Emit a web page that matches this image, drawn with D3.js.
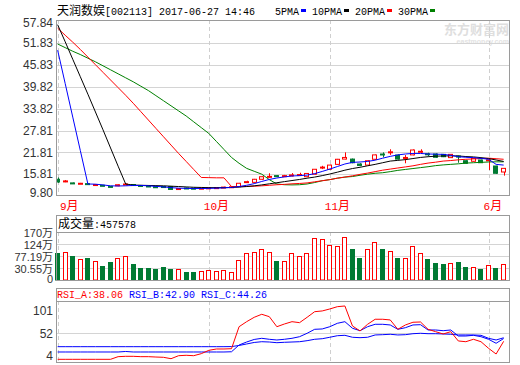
<!DOCTYPE html>
<html><head><meta charset="utf-8">
<script src="https://cdn.jsdelivr.net/npm/d3@7/dist/d3.min.js"></script>
<style>body{margin:0;background:#fff}svg{display:block}</style>
</head><body><svg id="c" width="520" height="365"></svg>
<script>
// ---------------- data ----------------
const stockName = "天润数娱";
const stockCode = "[002113] 2017-06-27 14:46";
const maNames = ["5PMA","10PMA","20PMA","30PMA"];
const monthLabels = ["9月","10月","11月","6月"];
const monthIndex = [0,20,36,57];
const priceTicks = [57.84,51.83,45.83,39.82,33.82,27.81,21.81,15.81,9.80];
const volTicks = [170,124,77.19,30.55,-15.9];
const volTickLabels = ["170万","124万","77.19万","30.55万","0"];
const rsiTicks = [101,52,4];
const volHeader = "457578";
const rsiHeader = ["38.06","42.90","44.26"];

const open  = [14.4,13.8,13.4,13.2,13.2,12.85,12.75,12.45,12.6,12.9,12.95,12.7,12.55,12.35,12.4,12.4,11.7,12.0,11.95,11.8,11.9,12.0,12.1,12.2,12.35,13.6,13.55,14.4,15.05,15.4,15.2,15.4,15.5,15.1,15.8,17.6,17.15,18.5,19.95,19.95,18.6,18.3,19.9,21.35,21.8,21.05,20.3,21.1,21.95,21.4,21.35,21.25,20.35,20.8,19.5,19.35,19.7,19.6,18.05,16.4];
const close = [13.65,13.95,13.25,13.3,13.05,12.95,12.6,12.3,12.9,13.1,12.75,12.55,12.35,12.2,12.2,11.6,11.85,11.9,11.8,11.95,12.05,12.1,12.25,12.35,13.3,13.75,14.4,15.1,15.2,15.2,15.4,15.6,15.7,16.0,17.15,17.75,18.3,19.9,20.4,18.95,18.2,19.5,21.1,21.2,21.95,19.95,20.4,22.45,22.1,21.3,20.45,20.6,21.25,20.5,18.8,20.15,18.95,19.75,16.05,17.4];
const high  = [14.9,14.2,13.5,13.4,13.3,13.1,12.85,12.55,13.0,13.2,13.05,12.8,12.65,12.45,12.45,12.45,12.0,12.1,12.05,12.05,12.15,12.2,12.35,12.45,13.4,14.0,14.5,15.2,16.05,15.5,15.6,16.1,16.2,16.1,17.2,18.1,18.4,20.0,21.8,20.1,18.8,19.6,21.2,21.8,22.65,21.2,21.05,22.6,22.65,21.7,21.5,21.35,21.35,20.9,19.6,20.25,19.8,20.0,18.1,17.5];
const low   = [13.4,13.6,13.1,13.1,12.95,12.7,12.5,12.2,12.5,12.8,12.6,12.45,12.3,12.1,12.1,11.5,11.6,11.8,11.7,11.7,11.85,11.95,12.0,12.1,12.3,13.4,13.4,14.3,14.75,15.0,15.1,15.2,15.4,15.0,15.7,17.2,17.0,18.4,19.9,18.8,18.0,18.2,19.8,20.45,21.1,19.85,18.8,21.0,21.5,20.8,20.3,20.5,20.25,18.95,18.7,19.25,18.9,16.95,15.9,15.4];

const ma5  = [49.9,40.7,31.5,22.3,13.1,13.05,12.85,12.6,12.55,12.6,12.7,12.7,12.6,12.45,12.3,12.1,11.95,11.9,11.85,11.85,11.9,11.95,12.05,12.15,12.4,12.75,13.2,13.8,14.35,14.75,15.05,15.3,15.4,15.55,15.95,16.55,17.2,17.9,18.6,19.05,19.15,19.3,19.65,20.2,20.7,21.1,21.35,21.5,21.5,21.35,21.3,21.25,21.0,20.6,20.45,20.35,20.15,19.9,18.5,18.3];
const ma10 = [56.9,52.2,47.4,42.6,37.8,32.9,28.0,23.0,18.0,13.1,12.8,12.75,12.7,12.65,12.6,12.5,12.4,12.3,12.2,12.15,12.1,12.1,12.1,12.15,12.25,12.4,12.6,12.85,13.15,13.45,13.75,14.05,14.35,14.7,15.0,15.4,15.85,16.35,16.9,17.35,17.7,18.1,18.5,18.95,19.4,19.6,19.8,20.1,20.4,20.6,20.75,20.8,20.85,20.8,20.65,20.55,20.35,20.1,19.7,19.3];
const ma20 = [55.95,54.0,52.1,50.1,48.0,45.9,43.8,41.7,39.6,37.5,35.3,33.0,30.7,28.4,26.1,23.8,21.5,19.3,17.1,14.9,14.85,14.8,14.8,12.4,12.4,12.45,12.5,12.6,12.75,12.9,13.0,13.15,13.25,13.4,13.7,14.0,14.3,14.7,15.0,15.35,15.75,16.1,16.5,16.9,17.2,17.5,17.8,18.1,18.5,18.85,19.1,19.4,19.55,19.75,19.9,20.0,20.1,20.2,20.05,19.9];
const ma30 = [51.6,50.6,49.6,48.7,47.7,46.7,45.6,44.5,43.4,42.3,41.2,40.0,38.8,37.4,36.0,34.6,33.2,31.8,30.2,28.6,27.0,24.8,22.6,20.4,18.8,17.4,16.6,15.8,14.3,13.1,12.9,12.85,12.9,13.1,13.5,14.0,14.3,14.7,15.0,15.15,15.5,15.8,16.05,16.2,16.5,16.85,17.1,17.35,17.6,17.85,18.15,18.35,18.5,18.65,18.85,18.95,19.05,19.15,19.2,19.2];

const volume = [89.8,93.7,77.1,65.4,70.5,57.7,38.3,55.0,69.3,77.1,46.1,31.7,31.7,27.9,35.6,27.9,26.7,16.2,16.2,20.1,22.8,20.1,22.8,16.2,61.6,89.8,93.7,104.2,92.5,58.8,57.7,88.7,77.1,88.7,145.6,142.9,119.7,115.8,149.5,104.2,69.3,103.0,130.1,104.2,95.3,69.3,68.1,115.8,88.7,65.4,51.1,46.1,48.8,55.0,34.4,33.3,26.7,41.0,30.6,45.76];

const rsiA = [6.9,6.9,6.9,6.9,6.9,6.9,6.9,6.9,11.5,12.1,12.1,11.5,11.5,10.9,10.4,8.0,13.2,13.9,13.2,16.7,22.5,24.8,24.8,25.3,63.4,72.1,79.7,84.9,80.8,63.4,68.1,72.1,70.4,79.7,89.4,90.7,94.1,98.1,99.3,64.7,56.0,67.6,76.3,76.3,75.1,58.9,66.4,71.1,71.6,58.9,54.8,50.8,54.8,38.7,37.4,41.6,37.4,26.0,16.1,38.06];
const rsiB = [19.6,19.6,19.6,19.6,19.6,19.6,19.6,19.6,19.6,20.5,19.6,19.6,19.6,19.6,19.6,19.6,19.6,19.6,19.6,19.6,19.6,19.6,19.6,20.0,31.7,36.9,41.3,43.3,41.6,40.4,41.6,43.3,46.1,52.0,58.9,59.5,63.4,69.3,72.1,60.7,56.5,63.4,67.6,67.6,66.4,58.9,61.7,66.4,66.9,57.7,57.7,56.5,57.7,47.3,47.3,48.5,46.1,41.6,34.7,42.90];
const rsiC = [28.8,28.8,28.8,28.8,28.8,28.8,28.8,28.8,28.8,28.8,28.8,28.8,28.8,28.8,28.8,28.8,28.8,28.8,28.8,28.8,28.8,28.8,28.8,29.0,30.9,33.5,36.1,37.4,36.9,35.7,36.4,36.9,37.4,39.2,41.6,42.6,45.1,47.8,48.5,45.1,44.4,45.1,49.1,49.6,50.3,49.1,49.6,51.3,52.0,51.3,51.3,50.8,50.3,49.1,49.1,49.1,48.5,43.3,40.4,44.26];

// ---------------- drawing ----------------
const RED="#ff0000", GREEN="#007a33", BLUE="#0000ff", GRID="#d4d4d4", FRAME="#9a9a9a";
const svg = d3.select("#c");
const n = close.length;
const L = 56, R = 510;
const x = d3.scaleBand().domain(d3.range(n)).range([55, 506.3]).paddingInner(0.3).paddingOuter(0);
const bw = x.bandwidth();
const cx = i => x(i) + bw/2;
const monoFont = "'Liberation Mono','DejaVu Sans Mono',monospace";
const cjkFont = "'Noto Sans CJK SC','Noto Sans',sans-serif";
const numFont = "'Liberation Sans',Arial,sans-serif";

function panel(top, bottom, header){
  const g = svg.append("g");
  g.append("rect").attr("x",L+0.5).attr("y",top+0.5).attr("width",R-L-1).attr("height",bottom-top)
    .attr("fill","none").attr("stroke",FRAME);
  if(header!=null){
    g.append("line").attr("x1",L).attr("x2",R).attr("y1",header+0.5).attr("y2",header+0.5).attr("stroke",FRAME);
  }
  return g;
}
function vgrid(g, y0, y1){
  g.selectAll("line.vg").data(monthIndex).join("line").attr("class","vg")
    .attr("x1",d=>Math.round(cx(d))+0.5).attr("x2",d=>Math.round(cx(d))+0.5)
    .attr("y1",y0).attr("y2",y1).attr("stroke","#cfcfcf").attr("stroke-dasharray","4,3");
}

// title
const t = svg.append("text").attr("x",57).attr("y",15).attr("fill","#000");
t.append("tspan").attr("font-family",cjkFont).attr("font-size",12).text(stockName);
t.append("tspan").attr("font-family",monoFont).attr("font-size",10).text(stockCode);

// legend
const maColors = [BLUE,"#000",RED,"#008000"];
const lg = svg.append("g");
let lx = 275;
maNames.forEach((nm,k)=>{
  lg.append("text").attr("x",lx).attr("y",15).attr("font-family",monoFont).attr("font-size",10).attr("fill","#000").text(nm);
  const w = nm.length*6;
  lg.append("rect").attr("x",lx+w+2).attr("y",9).attr("width",5).attr("height",3).attr("fill",maColors[k]);
  lx += w + 13;
});

// watermark
svg.append("text").attr("x",509).attr("y",34).attr("text-anchor","end").attr("font-family",cjkFont)
  .attr("font-weight","bold").attr("font-size",13).attr("fill","#dedede").text("东方财富网");
svg.append("text").attr("x",509).attr("y",44).attr("text-anchor","end").attr("font-family",numFont)
  .attr("font-weight","bold").attr("font-size",7).attr("fill","#e2e2e2").text("eastmoney.com");

// ---- main price panel ----
const mTop=20, mBot=195;
const y = d3.scaleLinear().domain([9.80,57.84]).range([196,21.3]);
const gm = svg.append("g");
gm.selectAll("line.hg").data(priceTicks.slice(1,-1)).join("line").attr("class","hg")
  .attr("x1",L).attr("x2",R).attr("y1",d=>Math.round(y(d))+0.5).attr("y2",d=>Math.round(y(d))+0.5).attr("stroke",GRID);
vgrid(gm, mTop, mBot);
const yAxis = d3.axisLeft(y).tickValues(priceTicks).tickSize(0).tickPadding(0).tickFormat(d3.format(".2f"));
const ya = svg.append("g").attr("transform",`translate(53,0)`).call(yAxis);
ya.select(".domain").remove();
ya.selectAll("text").attr("font-family",numFont).attr("font-size",12).attr("fill","#333")
  .attr("dy",(d,i)=> i===0 ? "0.45em" : (i===priceTicks.length-1 ? "0.05em":"0.32em"));

svg.append("defs").append("clipPath").attr("id","mclip").append("rect")
  .attr("x",L+1).attr("y",mTop+1).attr("width",R-L-2).attr("height",mBot-mTop-1);
const gc = svg.append("g").attr("clip-path","url(#mclip)");
const idx = d3.range(n);
gc.selectAll("line.wick").data(idx).join("line")
  .attr("x1",i=>Math.round(cx(i))+0.5).attr("x2",i=>Math.round(cx(i))+0.5)
  .attr("y1",i=>y(high[i])).attr("y2",i=>y(low[i]))
  .attr("stroke",i=>close[i]>=open[i]?RED:GREEN);
gc.selectAll("rect.body").data(idx).join("rect")
  .attr("x",i=>Math.round(x(i))+0.5).attr("width",Math.round(bw)-1)
  .attr("y",i=>y(Math.max(open[i],close[i])))
  .attr("height",i=>Math.max(1,Math.abs(y(open[i])-y(close[i]))))
  .attr("fill",i=>close[i]>=open[i]?"#fff":GREEN)
  .attr("stroke",i=>close[i]>=open[i]?RED:GREEN);
const line = d3.line().x((d,i)=>cx(i)).y(d=>y(d));
[[ma30,"#008000"],[ma20,RED],[ma10,"#000"],[ma5,BLUE]].forEach(([arr,col])=>{
  gc.append("path").datum(arr).attr("d",line).attr("fill","none").attr("stroke",col).attr("stroke-width",1);
});
panel(mTop, mBot, null);

// month labels
svg.selectAll("text.mon").data(monthIndex).join("text").attr("class","mon")
  .attr("x",d=>Math.max(60,cx(d)-5)).attr("y",210).attr("fill",RED)
  .each(function(d,k){
    const s = monthLabels[k];
    const tt = d3.select(this);
    tt.append("tspan").attr("font-family",monoFont).attr("font-size",11).text(s.slice(0,-1));
    tt.append("tspan").attr("font-family",cjkFont).attr("font-size",12).text(s.slice(-1));
  });

// ---- volume panel ----
const vTop=215, vHead=232, vBot=280;
const yv = d3.scaleLinear().domain([volTicks[volTicks.length-1],volTicks[0]]).range([vBot,vHead]);
const gv = svg.append("g");
gv.selectAll("line.hg").data(volTicks.slice(1,-1)).join("line").attr("class","hg")
  .attr("x1",L).attr("x2",R).attr("y1",d=>Math.round(yv(d))+0.5).attr("y2",d=>Math.round(yv(d))+0.5).attr("stroke",GRID);
vgrid(gv, vHead, vBot);
gv.selectAll("rect.vb").data(idx).join("rect").attr("class","vb")
  .attr("x",i=>Math.round(x(i))+0.5).attr("width",Math.round(bw)-1)
  .attr("y",i=>Math.round(yv(volume[i]))+0.5).attr("height",i=>vBot-Math.round(yv(volume[i]))-0.5)
  .attr("fill",i=>close[i]>=open[i]?"#fff":GREEN)
  .attr("stroke",i=>close[i]>=open[i]?RED:GREEN);
panel(vTop, vBot, vHead);
const va = svg.append("g").attr("transform","translate(53,0)")
  .call(d3.axisLeft(yv).tickValues(volTicks).tickSize(0).tickPadding(0).tickFormat((d,i)=>volTickLabels[i]));
va.select(".domain").remove();
va.selectAll("text").attr("font-family",numFont).attr("font-size",11).attr("fill","#333")
  .attr("dy",(d,i)=> i===volTicks.length-1 ? "0.2em":"0.4em")
  .each(function(d,i){
    const s = volTickLabels[i]; const tt=d3.select(this); tt.text(null);
    if(s.endsWith("万")){ tt.append("tspan").text(s.slice(0,-1)); tt.append("tspan").attr("font-family",cjkFont).text("万"); }
    else tt.text(s);
  });
const vh = svg.append("text").attr("x",58).attr("y",228).attr("fill","#000");
vh.append("tspan").attr("font-family",cjkFont).attr("font-size",12).text("成交量");
vh.append("tspan").attr("font-family",monoFont).attr("font-size",10).text(":"+volHeader);

// ---- RSI panel ----
const rTop=288, rHead=301, rBot=362;
const yr = d3.scaleLinear().domain([rsiTicks[2],rsiTicks[0]]).range([361,305]);
const gr = svg.append("g");
gr.append("line").attr("x1",L).attr("x2",R).attr("y1",Math.round(yr(52))+0.5).attr("y2",Math.round(yr(52))+0.5).attr("stroke",GRID);
vgrid(gr, rHead, rBot);
svg.append("defs").append("clipPath").attr("id","rclip").append("rect")
  .attr("x",L+1).attr("y",rHead+1).attr("width",R-L-2).attr("height",rBot-rHead-1);
const grl = svg.append("g").attr("clip-path","url(#rclip)");
const rline = d3.line().x((d,i)=>cx(i)).y(d=>yr(d));
[[rsiC,BLUE],[rsiB,BLUE],[rsiA,RED]].forEach(([arr,col])=>{
  grl.append("path").datum(arr).attr("d",rline).attr("fill","none").attr("stroke",col).attr("stroke-width",1);
});
panel(rTop, rBot, rHead);
const ra = svg.append("g").attr("transform","translate(53,0)")
  .call(d3.axisLeft(yr).tickValues(rsiTicks).tickSize(0).tickPadding(0));
ra.select(".domain").remove();
ra.selectAll("text").attr("font-family",numFont).attr("font-size",12).attr("fill","#333")
  .attr("dy",(d,i)=> i===0 ? "0.8em" : (i===2 ? "-0.1em" : "0.35em"));
const rh = svg.append("text").attr("x",57).attr("y",298).attr("font-family",monoFont).attr("font-size",10);
rh.append("tspan").attr("fill",RED).text("RSI_A:"+rsiHeader[0]+" ");
rh.append("tspan").attr("fill",BLUE).text("RSI_B:"+rsiHeader[1]+" ");
rh.append("tspan").attr("fill",BLUE).text("RSI_C:"+rsiHeader[2]);
</script></body></html>
